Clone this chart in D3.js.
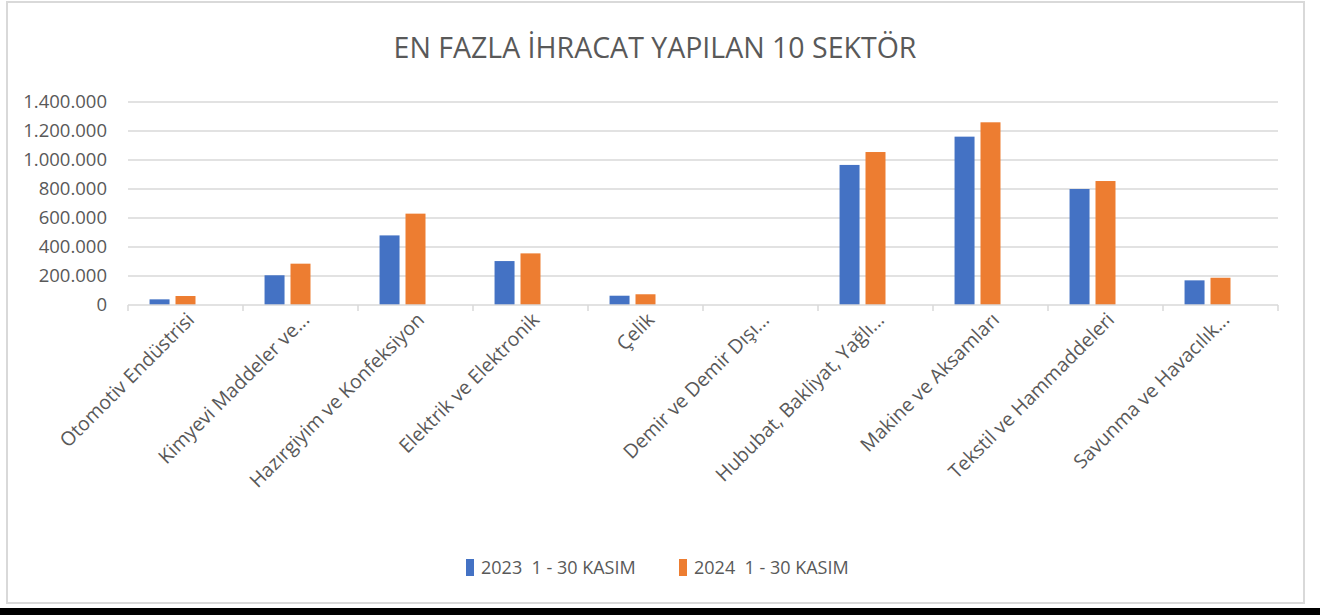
<!DOCTYPE html>
<html>
<head>
  <meta charset="utf-8">
  <title>En Fazla İhracat Yapılan 10 Sektör</title>
  <script src="https://d3js.org/d3.v7.min.js"></script>
  <style>
    body { margin: 0; background: #fff; }
    svg { display: block; font-family: "Open Sans", sans-serif; }
    .grid line { stroke: #d9d9d9; stroke-width: 1.5; }
    .y-label { fill: #595959; font-size: 18.5px; }
    .x-label { fill: #595959; font-size: 19.5px; }
    .legend-label { fill: #595959; font-size: 18px; white-space: pre; }
    .title { fill: #595959; font-size: 28.5px; }
  </style>
</head>
<body>
  <svg id="chart" width="1320" height="615"></svg>

  <script>
    // Sectors (x axis labels, truncated as in the original)
    const categories = [
      "Otomotiv Endüstrisi",
      "Kimyevi Maddeler ve...",
      "Hazırgiyim ve Konfeksiyon",
      "Elektrik ve Elektronik",
      "Çelik",
      "Demir ve Demir Dışı...",
      "Hububat, Bakliyat, Yağlı...",
      "Makine ve Aksamları",
      "Tekstil ve Hammaddeleri",
      "Savunma ve Havacılık..."
    ];

    const series = ["2023  1 - 30 KASIM", "2024  1 - 30 KASIM"];

    // values
    const values2023 = [39000, 205000, 480000, 303000, 64000, 0, 966000, 1161000, 800000, 170000];
    const values2024 = [62000, 285000, 630000, 356000, 74000, 0, 1055000, 1260000, 855000, 188000];

    const yTicks = [0, 200000, 400000, 600000, 800000, 1000000, 1200000, 1400000];

    const colors = ["#4472c4", "#ed7d31"];

    const svg = d3.select("#chart");

    // chart frame
    svg.append("rect")
      .attr("x", 7).attr("y", 2)
      .attr("width", 1297).attr("height", 601)
      .attr("fill", "#fff")
      .attr("stroke", "#d9d9d9")
      .attr("stroke-width", 2);

    // black strip at the bottom
    svg.append("rect")
      .attr("x", 0).attr("y", 608)
      .attr("width", 1320).attr("height", 7)
      .attr("fill", "#000");

    svg.append("text")
      .attr("class", "title")
      .attr("x", 655).attr("y", 58)
      .attr("text-anchor", "middle")
      .text("EN FAZLA İHRACAT YAPILAN 10 SEKTÖR");

    const plotLeft = 128, plotRight = 1278, plotTop = 102, plotBottom = 305;

    const x0 = d3.scaleBand()
      .domain(categories)
      .range([plotLeft, plotRight]);

    // third slot stays empty, the original leaves room for it
    const x1 = d3.scaleBand()
      .domain(["a", "b", "c"])
      .range([0, x0.bandwidth()])
      .paddingInner(0.23)
      .paddingOuter(0.83);

    const y = d3.scaleLinear()
      .domain([0, 1400000])
      .range([plotBottom, plotTop]);

    const fmt = d3.formatLocale({ decimal: ",", thousands: ".", grouping: [3], currency: ["", ""] }).format(",d");

    // gridlines
    svg.append("g")
      .attr("class", "grid")
      .selectAll("line")
      .data(yTicks.filter(d => d > 0))
      .join("line")
      .attr("x1", plotLeft).attr("x2", plotRight)
      .attr("y1", d => y(d)).attr("y2", d => y(d));

    // y labels
    svg.append("g")
      .selectAll("text")
      .data(yTicks)
      .join("text")
      .attr("class", "y-label")
      .attr("x", 107)
      .attr("y", d => y(d))
      .attr("dy", "0.35em")
      .attr("text-anchor", "end")
      .text(d => fmt(d));

    // bars
    const data = categories.map((c, i) => ({ cat: c, vals: [values2023[i], values2024[i]] }));
    const keys = ["a", "b"];

    svg.append("g")
      .selectAll("g")
      .data(data)
      .join("g")
      .attr("transform", d => `translate(${x0(d.cat)},0)`)
      .selectAll("rect")
      .data(d => d.vals.map((v, j) => ({ v, j })))
      .join("rect")
      .attr("x", d => x1(keys[d.j]))
      .attr("width", x1.bandwidth())
      .attr("y", d => y(d.v))
      .attr("height", d => plotBottom - y(d.v))
      .attr("fill", d => colors[d.j]);

    // x axis line and tick marks at category boundaries
    svg.append("line")
      .attr("x1", plotLeft).attr("x2", plotRight)
      .attr("y1", plotBottom).attr("y2", plotBottom)
      .attr("stroke", "#d9d9d9").attr("stroke-width", 1.5);

    const bounds = categories.map(c => x0(c)).concat([plotRight]);
    svg.append("g")
      .selectAll("line")
      .data(bounds)
      .join("line")
      .attr("x1", d => d).attr("x2", d => d)
      .attr("y1", plotBottom).attr("y2", plotBottom + 6)
      .attr("stroke", "#d9d9d9").attr("stroke-width", 1.5);

    // rotated category labels
    svg.append("g")
      .selectAll("text")
      .data(categories)
      .join("text")
      .attr("class", "x-label")
      .attr("text-anchor", "end")
      .attr("transform", d => `translate(${x0(d) + x0.bandwidth() / 2 + 10},${plotBottom + 16}) rotate(-45)`)
      .text(d => d);

    // legend
    const legend = svg.append("g")
      .selectAll("g")
      .data(series)
      .join("g")
      .attr("transform", (d, i) => `translate(${466 + i * 213},559)`);

    legend.append("rect")
      .attr("width", 8).attr("height", 17)
      .attr("fill", (d, i) => colors[i]);

    legend.append("text")
      .attr("class", "legend-label")
      .attr("x", 15).attr("y", 9)
      .attr("dy", "0.35em")
      .text(d => d);
  </script>
</body>
</html>
